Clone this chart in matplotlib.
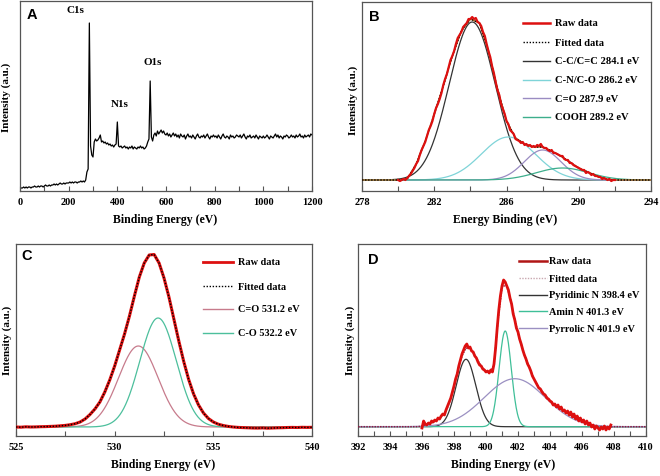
import numpy as np
import matplotlib
matplotlib.use("Agg")
import matplotlib.pyplot as plt
from matplotlib.lines import Line2D

W, H = 660, 477
SERIF = ['Liberation Serif', 'DejaVu Serif']
SANS = ['Liberation Sans', 'DejaVu Sans']

# ---------------- data ----------------
# Panel A: survey spectrum, 0..1200 eV every 5 eV
a_intensity = [
    3, 3, 3, 4, 3, 4, 3, 4, 4, 3, 4, 4, 5, 4, 4, 5, 4, 5, 5, 4,            # 0-95
    5, 6, 5, 5, 6, 5, 6, 6, 7, 6, 7, 6, 7, 8, 7, 7, 8, 7, 8, 8,            # 100-195
    8, 9, 8, 9, 8, 9, 9, 8, 9, 9, 10, 9, 10, 9, 11, 19, 22, 168, 45, 36,   # 200-295
    34, 49, 52, 50, 51, 53, 56, 49, 50, 48, 49, 47, 48, 46, 47, 45, 46, 44, 46, 47,  # 300-395
    69, 45, 44, 45, 43, 44, 45, 43, 44, 42, 44, 43, 45, 42, 44, 43, 42, 44, 43, 45,  # 400-495
    43, 44, 42, 43, 45, 49, 52, 110, 54, 50, 56, 58, 55, 60, 57, 59, 61, 58, 60, 57, # 500-595
    56, 58, 55, 57, 54, 56, 58, 55, 57, 54, 56, 53, 57, 55, 54, 56, 52, 55, 57, 54,  # 600-695
    55, 53, 56, 54, 52, 55, 57, 54, 53, 55, 54, 56, 53, 55, 57, 54, 52, 55, 54, 56,  # 700-795
    54, 55, 53, 56, 54, 52, 55, 57, 54, 53, 55, 54, 52, 56, 54, 55, 53, 54, 56, 55,  # 800-895
    54, 56, 53, 55, 57, 54, 52, 55, 54, 56, 53, 54, 55, 53, 56, 54, 52, 55, 54, 53,  # 900-995
    55, 53, 54, 56, 54, 52, 55, 54, 53, 55, 57, 54, 56, 53, 55, 54, 52, 55, 54, 56,  # 1000-1095
    55, 53, 54, 56, 54, 55, 53, 56, 54, 55, 57, 54, 55, 53, 56, 54, 55, 56, 54, 57, 56,  # 1100-1200
]
a_energy = np.arange(len(a_intensity)) * 5.0
a_peak_names = ['C1s', 'N1s', 'O1s']
a_peak_pos = [(226, 182), (411, 88), (547, 130)]
a_xticks = list(range(0, 1201, 100))
a_xticklabels = ['0', '', '200', '', '400', '', '600', '', '800', '', '1000', '', '1200']

# Panel B: C1s, raw data 280.0..292.0 every 0.1 eV
b_raw = [
    11, 10, 11, 12, 11, 13, 15, 17, 20, 23,
    27, 30, 36, 41, 45, 49, 55, 61, 65, 70,
    77, 83, 87, 92, 98, 106, 112, 117, 124, 131,
    135, 140, 147, 153, 156, 159, 164, 166, 168, 172,
    172, 174, 172, 173, 169, 168, 165, 159, 155, 147,
    140, 134, 125, 118, 109, 101, 96, 87, 82, 77,
    70, 67, 61, 59, 57, 52, 51, 50, 48, 49,
    46, 47, 45, 46, 44, 45, 44, 46, 45, 47,
    44, 43, 43, 41, 40, 41, 38, 38, 37, 36,
    35, 35, 32, 31, 31, 28, 28, 26, 25, 24,
    23, 22, 21, 21, 18, 19, 18, 16, 17, 15,
    15, 14, 14, 12, 13, 12, 11, 12, 10, 11,
    11,
]
b_raw_energy = 280.0 + 0.1 * np.arange(len(b_raw))
# fitted envelope 278..294 every 0.5 eV
b_fit = [11, 11, 11, 11, 11, 12, 27, 50, 77, 105, 135, 160, 172, 168, 140, 102,
         70, 53, 47, 44, 44, 40, 35, 29, 23, 19, 15, 12, 11, 11, 11, 11, 11]
b_fit_energy = 278.0 + 0.5 * np.arange(len(b_fit))
b_labels = ['C-C/C=C 284.1 eV', 'C-N/C-O 286.2 eV', 'C=O 287.9 eV', 'COOH 289.2 eV']
b_centers = [284.1, 286.1, 288.0, 289.1]
b_heights = [158, 43, 30, 12]
b_fwhm = [3.0, 3.5, 2.4, 3.4]
b_base = 11
b_colors = ['#333333', '#7fd4d8', '#9a8cc2', '#3dae8c']
b_xticks = list(range(278, 295, 2))
b_xticklabels = ['278', '', '282', '', '286', '', '290', '', '294']

# Panel C: O1s, raw data 525..540 every 0.25 eV
c_raw = [
    9.0, 8.8, 9.2, 9.0, 9.1, 9.3, 9.4, 9.6, 9.8, 10.2, 10.6, 11.3,
    12.3, 14.0, 17.0, 21.5, 27.0, 34.0, 44.0, 56.0, 70.0, 86.0, 102.0, 120.0,
    140.0, 159.0, 173.0, 181.0, 181.5, 173.0, 158.0, 139.0, 117.0, 95.0, 74.5, 56.5,
    42.0, 31.0, 23.0, 17.5, 14.0, 11.8, 10.5, 9.6, 9.0, 8.6, 8.4, 8.2,
    8.0, 7.9, 8.1, 7.8, 8.0, 8.2, 8.3, 8.5, 8.6, 8.5, 8.7, 8.6, 8.7,
]
c_energy = 525.0 + 0.25 * np.arange(len(c_raw))
c_fit = c_raw  # fitted envelope lies on the raw data
c_labels = ['C=O 531.2 eV', 'C-O 532.2 eV']
c_centers = [531.2, 532.2]
c_heights = [81, 109]
c_fwhm = [2.36, 2.18]
c_base = 9
c_colors = ['#c77b8c', '#4cbf9c']
c_xticks = [525, 527.5, 530, 532.5, 535, 537.5, 540]
c_xticklabels = ['525', '', '530', '', '535', '', '540']

# Panel D: N1s, raw data 396.0..407.8 every 0.1 eV
d_raw = [
    8, 15, 12, 11, 13, 12, 15, 14, 16, 15,
    18, 17, 20, 22, 21, 26, 30, 34, 38, 44,
    50, 57, 62, 70, 76, 82, 86, 90, 92, 88,
    89, 85, 84, 80, 78, 74, 71, 70, 67, 66,
    64, 65, 63, 66, 64, 72, 88, 108, 126, 140,
    150, 156, 154, 150, 146, 138, 132, 122, 116, 108,
    104, 97, 92, 86, 81, 77, 72, 69, 65, 60,
    57, 54, 51, 48, 47, 44, 42, 41, 38, 37,
    35, 34, 31, 32, 29, 31, 27, 29, 25, 26,
    23, 25, 21, 24, 19, 22, 17, 20, 15, 18,
    14, 16, 12, 15, 11, 13, 9, 11, 7, 10,
    8, 6, 9, 7, 10, 6, 9, 7, 11,
]
d_raw_energy = 396.0 + 0.1 * np.arange(len(d_raw))
# fitted envelope 392..410 every 0.25 eV
d_fit = [
    9.3, 9.3, 9.3, 9.3, 9.3, 9.3, 9.3, 9.3, 9.3, 9.3, 9.3, 9.3, 9.3, 9.3, 9.3, 9.3,
    10, 11.5, 12.5, 14, 16.5, 20, 25, 35, 49, 66, 80, 88,
    87.5, 82, 75, 69, 64.5, 64, 71, 116, 148, 152, 139, 120,
    103, 89, 77, 67, 57, 50, 45, 40, 35.5, 32, 29.5, 27,
    24, 21.5, 19.5, 17.5, 15, 13, 11.5, 10, 9, 8.5, 8.5, 9,
    9.3, 9.3, 9.3, 9.3, 9.3, 9.3, 9.3, 9.3, 9.3,
]
d_fit_energy = 392.0 + 0.25 * np.arange(len(d_fit))
d_labels = ['Pyridinic N 398.4 eV', 'Amin N 401.3 eV', 'Pyrrolic N 401.9 eV']
d_centers = [398.75, 401.2, 401.8]
d_heights = [67.4, 95.7, 48]
d_fwhm = [1.45, 0.9, 4.5]
d_base = 9.3
d_colors = ['#333333', '#3fbf98', '#9b90c2']
d_xticks = list(range(392, 411, 1))
d_xticklabels = [str(v) if v % 2 == 0 else '' for v in d_xticks]


def gauss(x, c, h, fwhm, base):
    return base + h * np.exp(-4 * np.log(2) * (x - c) ** 2 / fwhm ** 2)


# ---------------- figure ----------------
fig = plt.figure(figsize=(W / 100, H / 100), dpi=100)
RED = '#dd1010'
FRAME = '#555555'


def make_ax(l, t, r, b):
    ax = fig.add_axes([l / W, 1 - b / H, (r - l) / W, (b - t) / H])
    for s in ax.spines.values():
        s.set_color(FRAME)
        s.set_linewidth(0.9)
    ax.set_yticks([])
    ax.tick_params(axis='x', direction='in', length=3.5, width=0.8, color=FRAME,
                   pad=4, labelsize=7.5, top=False)
    return ax


def style_ticklabels(ax):
    for lab in ax.get_xticklabels():
        lab.set_fontfamily(SERIF)
        lab.set_fontweight('bold')


def ftext(x, y, s, **kw):
    fig.text(x / W, 1 - y / H, s, **kw)


def legend_entry(x0, x1, xt, y, label, color, ls='-', lw=1.0, fs=7.6):
    fig.add_artist(Line2D([x0 / W, x1 / W], [1 - y / H, 1 - y / H], color=color,
                          linestyle=ls, linewidth=lw, transform=fig.transFigure))
    ftext(xt, y, label, family=SERIF, weight='bold', fontsize=fs, va='center', ha='left')


# ---- A ----
axA = make_ax(20, 2, 312, 192)
axA.plot(a_energy, a_intensity, color='black', lw=0.9)
axA.set_xlim(0, 1200)
axA.set_ylim(0, 190)
axA.set_xticks(a_xticks)
axA.set_xticklabels(a_xticklabels)
style_ticklabels(axA)
for name, (x, y) in zip(a_peak_names, a_peak_pos):
    axA.text(x, y, name, family=SERIF, weight='bold', fontsize=8, ha='center', va='center')
ftext(32, 15, 'A', family=SANS, weight='bold', fontsize=10.5, ha='center', va='center')
ftext(165, 220, 'Binding Energy (eV)', family=SERIF, weight='bold', fontsize=8.5,
      ha='center', va='center')
ftext(6, 97, 'Intensity (a.u.)', family=SERIF, weight='bold', fontsize=8, rotation=90,
      ha='center', va='center')

# ---- B ----
axB = make_ax(362, 3, 651, 192)
xb = np.linspace(278, 294, 600)
for c, h, w, col in zip(b_centers, b_heights, b_fwhm, b_colors):
    axB.plot(xb, gauss(xb, c, h, w, b_base), color=col, lw=0.9)
axB.plot(b_fit_energy, b_fit, color='#b5651d', lw=1.0, zorder=3)
axB.plot(b_fit_energy, b_fit, color='black', lw=1.0, ls=(0, (1, 1.2)), zorder=3)
axB.plot(b_raw_energy, b_raw, color=RED, lw=1.6, zorder=4)
axB.set_xlim(278, 294)
axB.set_ylim(0, 189)
axB.set_xticks(b_xticks)
axB.set_xticklabels(b_xticklabels)
style_ticklabels(axB)
ftext(374, 17, 'B', family=SANS, weight='bold', fontsize=10.5, ha='center', va='center')
ftext(505, 220, 'Energy Binding (eV)', family=SERIF, weight='bold', fontsize=8.5,
      ha='center', va='center')
ftext(353, 100, 'Intensity (a.u.)', family=SERIF, weight='bold', fontsize=8, rotation=90,
      ha='center', va='center')
legend_entry(523, 550, 555, 24, 'Raw data', RED, lw=1.8)
legend_entry(523, 550, 555, 43, 'Fitted data', 'black', ls=(0, (1, 1.2)), lw=1.0)
for i, (lab, col) in enumerate(zip(b_labels, b_colors)):
    legend_entry(523, 550, 555, 62 + 18.6 * i, lab, col, lw=1.0)

# ---- C ----
axC = make_ax(16, 245, 312, 437)
xc = np.linspace(525, 540, 600)
for c, h, w, col in zip(c_centers, c_heights, c_fwhm, c_colors):
    axC.plot(xc, gauss(xc, c, h, w, c_base), color=col, lw=0.9)
axC.plot(c_energy, c_raw, color=RED, lw=2.2, zorder=3)
axC.plot(c_energy, c_fit, color='black', lw=1.0, ls=(0, (1, 1.2)), zorder=4)
axC.set_xlim(525, 540)
axC.set_ylim(0, 192)
axC.set_xticks(c_xticks)
axC.set_xticklabels(c_xticklabels)
style_ticklabels(axC)
ftext(27, 256, 'C', family=SANS, weight='bold', fontsize=10.5, ha='center', va='center')
ftext(163, 465, 'Binding Energy (eV)', family=SERIF, weight='bold', fontsize=8.5,
      ha='center', va='center')
ftext(7, 340, 'Intensity (a.u.)', family=SERIF, weight='bold', fontsize=8, rotation=90,
      ha='center', va='center')
legend_entry(203, 233, 238, 263, 'Raw data', RED, lw=2.0, fs=7.4)
legend_entry(203, 233, 238, 287, 'Fitted data', 'black', ls=(0, (1, 1.2)), lw=1.0, fs=7.4)
for i, (lab, col) in enumerate(zip(c_labels, c_colors)):
    legend_entry(203, 233, 238, 310 + 24 * i, lab, col, lw=1.0, fs=7.4)

# ---- D ----
axD = make_ax(358, 245, 646, 437)
xd = np.linspace(392, 410, 700)
for c, h, w, col in zip(d_centers, d_heights, d_fwhm, d_colors):
    axD.plot(xd, gauss(xd, c, h, w, d_base), color=col, lw=0.9, zorder=2)
axD.plot(d_fit_energy, d_fit, color='#8b2040', lw=1.1, ls=(0, (1, 0.8)), zorder=3)
axD.plot(d_raw_energy, d_raw, color=RED, lw=2.0, zorder=4)
axD.set_xlim(392, 410)
axD.set_ylim(0, 192)
axD.set_xticks(d_xticks)
axD.set_xticklabels(d_xticklabels)
style_ticklabels(axD)
ftext(373, 260, 'D', family=SANS, weight='bold', fontsize=10.5, ha='center', va='center')
ftext(503, 465, 'Binding Energy (eV)', family=SERIF, weight='bold', fontsize=8.5,
      ha='center', va='center')
ftext(350, 340, 'Intensity (a.u.)', family=SERIF, weight='bold', fontsize=8, rotation=90,
      ha='center', va='center')
legend_entry(519, 547, 549, 262, 'Raw data', '#b01515', lw=1.8, fs=7.4)
legend_entry(519, 547, 549, 279, 'Fitted data', '#c9a8b0', ls=(0, (1, 1)), lw=1.0, fs=7.4)
for i, (lab, col) in enumerate(zip(d_labels, d_colors)):
    legend_entry(519, 547, 549, 295.5 + 16.8 * i, lab, col, lw=1.0, fs=7.4)

fig.savefig('out.png', dpi=100)
